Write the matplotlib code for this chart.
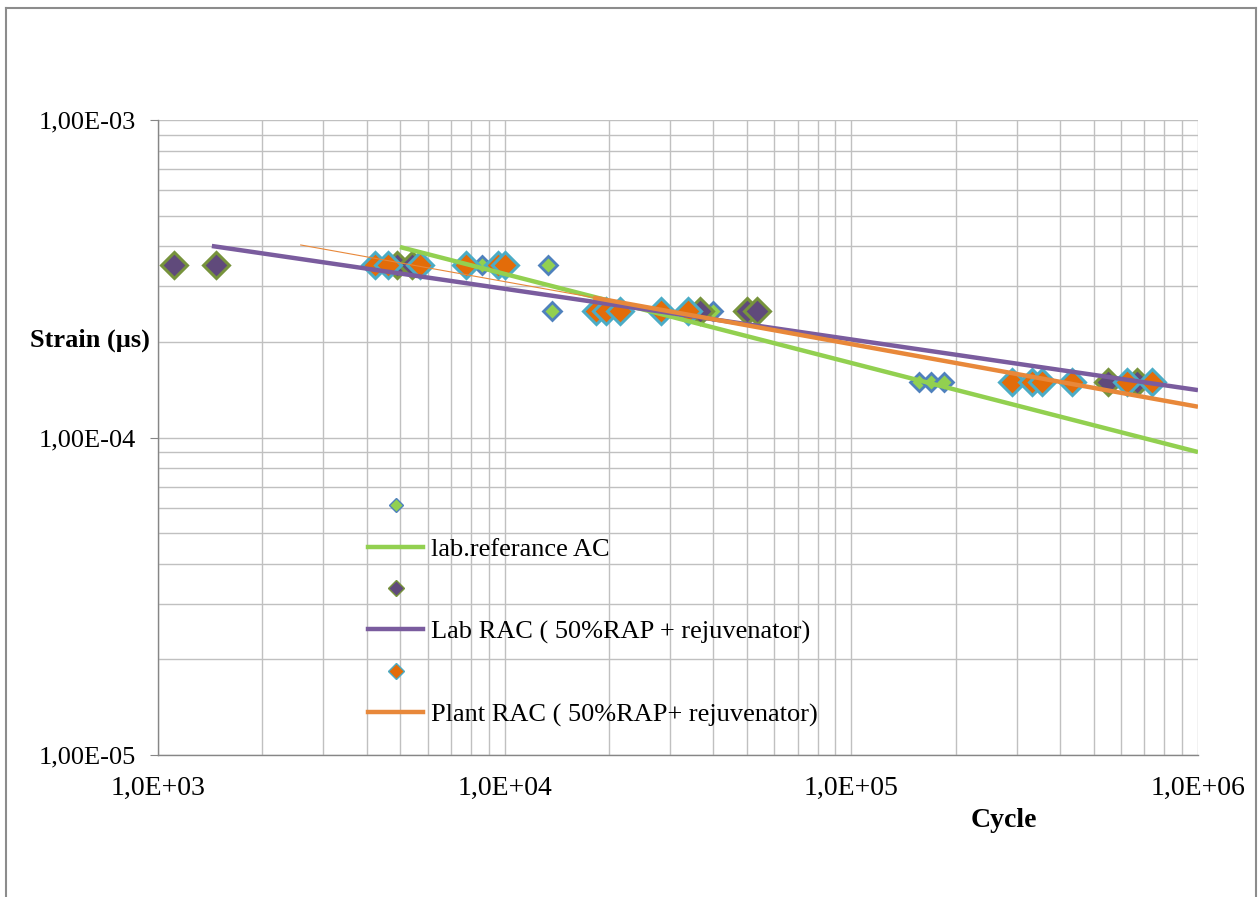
import matplotlib
matplotlib.use("Agg")
import matplotlib.pyplot as plt
from matplotlib.lines import Line2D
from matplotlib.ticker import NullFormatter, LogLocator

plt.rcParams['font.family'] = ['Liberation Serif', 'DejaVu Serif']

# ---- data ----
ac_x = [5.0e3, 8.6e3, 1.33e4, 1.37e4, 3.98e4, 1.57e5, 1.70e5, 1.85e5]
ac_y = [3.5e-4, 3.5e-4, 3.5e-4, 2.5e-4, 2.5e-4, 1.5e-4, 1.5e-4, 1.5e-4]

lab_x = [1.11e3, 1.47e3, 4.89e3, 5.40e3, 3.67e4, 4.99e4, 5.33e4, 5.5e5, 6.68e5]
lab_y = [3.5e-4, 3.5e-4, 3.5e-4, 3.5e-4, 2.5e-4, 2.5e-4, 2.5e-4, 1.5e-4, 1.5e-4]

plant_x = [4.23e3, 4.61e3, 5.70e3, 7.76e3, 9.58e3, 1.00e4,
           1.84e4, 1.96e4, 2.15e4, 2.82e4, 3.37e4,
           2.91e5, 3.31e5, 3.54e5, 4.32e5, 6.26e5, 7.35e5]
plant_y = [3.5e-4] * 6 + [2.5e-4] * 5 + [1.5e-4] * 6

# trend lines (end points)
ac_trend_x = [4.99e3, 1.0e6]
ac_trend_y = [3.98e-4, 9.0e-5]
lab_trend_x = [1.43e3, 1.0e6]
lab_trend_y = [4.01e-4, 1.41e-4]
plant_thin_x = [2.58e3, 1.8e4]
plant_thin_y = [4.04e-4, 2.76e-4]
plant_trend_x = [1.8e4, 1.0e6]
plant_trend_y = [2.76e-4, 1.25e-4]

labels = ["lab.referance AC", "Lab RAC ( 50%RAP + rejuvenator)",
          "Plant RAC ( 50%RAP+ rejuvenator)"]
xticks = [1e3, 1e4, 1e5, 1e6]
xticklabels = ["1,0E+03", "1,0E+04", "1,0E+05", "1,0E+06"]
yticks = [1e-5, 1e-4, 1e-3]
yticklabels = ["1,00E-05", "1,00E-04", "1,00E-03"]

# colours
c_ac_fill, c_ac_edge, c_ac_line = "#92D050", "#4F81BD", "#92D050"
c_lab_fill, c_lab_edge, c_lab_line = "#604A7B", "#77933C", "#7A5C9E"
c_pl_fill, c_pl_edge, c_pl_line = "#E36C09", "#4BACC6", "#E8883A"

W, H = 1260, 897
fig = plt.figure(figsize=(W / 100, H / 100), dpi=100)
ax = fig.add_axes([158 / W, 1 - 755 / H, (1198 - 158) / W, (755 - 120) / H])
ax.set_xscale("log")
ax.set_yscale("log")
ax.set_xlim(1e3, 1e6)
ax.set_ylim(1e-5, 1e-3)

grid_c = "#C0C0C0"
ax.grid(True, which="both", color=grid_c, lw=1.0)
ax.set_axisbelow(True)

# markers
ax.plot(ac_x, ac_y, ls="none", marker="D", ms=9.5, mfc=c_ac_fill, mec=c_ac_edge, mew=2.0, zorder=3)
ax.plot(lab_x, lab_y, ls="none", marker="D", ms=13, mfc=c_lab_fill, mec=c_lab_edge, mew=2.2, zorder=3)
ax.plot(plant_x, plant_y, ls="none", marker="D", ms=13, mfc=c_pl_fill, mec=c_pl_edge, mew=2.2, zorder=3)

# trend lines
ax.plot(ac_trend_x, ac_trend_y, color=c_ac_line, lw=3.2, zorder=4, solid_capstyle="butt")
ax.plot(lab_trend_x, lab_trend_y, color=c_lab_line, lw=3.2, zorder=4, solid_capstyle="butt")
ax.plot(plant_thin_x, plant_thin_y, color=c_pl_line, lw=0.8, zorder=4)
ax.plot(plant_trend_x, plant_trend_y, color=c_pl_line, lw=3.2, zorder=4, solid_capstyle="butt")

ax.set_xticks(xticks)
ax.set_xticklabels(xticklabels, fontsize=20)
ax.set_yticks(yticks)
ax.set_yticklabels(yticklabels, fontsize=19)
ax.xaxis.set_minor_locator(LogLocator(base=10, subs=range(2, 10)))
ax.yaxis.set_minor_locator(LogLocator(base=10, subs=range(2, 10)))
ax.xaxis.set_minor_formatter(NullFormatter())
ax.yaxis.set_minor_formatter(NullFormatter())
ax.tick_params(axis="x", which="both", length=0, pad=15)
ax.tick_params(axis="y", which="major", length=6, color="#868686", pad=10, direction="out")
ax.tick_params(axis="y", which="minor", length=0)

for s in ["top", "right"]:
    ax.spines[s].set_visible(False)
for s in ["left", "bottom"]:
    ax.spines[s].set_color("#868686")
    ax.spines[s].set_linewidth(1.0)

fig.text(90 / W, 1 - 340 / H, "Strain (µs)", fontsize=19, fontweight="bold",
         ha="center", va="center")
fig.text(1004 / W, 1 - 820 / H, "Cycle", fontsize=20, fontweight="bold",
         ha="center", va="center")

# legend
handles = [
    Line2D([], [], ls="none", marker="D", ms=7.5, mfc=c_ac_fill, mec=c_ac_edge, mew=1.0),
    Line2D([], [], color=c_ac_line, lw=3.2),
    Line2D([], [], ls="none", marker="D", ms=8, mfc=c_lab_fill, mec=c_lab_edge, mew=1.0),
    Line2D([], [], color=c_lab_line, lw=3.2),
    Line2D([], [], ls="none", marker="D", ms=8, mfc=c_pl_fill, mec=c_pl_edge, mew=1.0),
    Line2D([], [], color=c_pl_line, lw=3.2),
]
leg_labels = ["", labels[0], "", labels[1], "", labels[2]]
leg = ax.legend(handles, leg_labels, loc="upper left",
                bbox_to_anchor=(368 / W, 1 - 496 / H), bbox_transform=fig.transFigure,
                frameon=False, fontsize=19, handlelength=2.1, handletextpad=0.3,
                labelspacing=0.675, borderpad=0.0, borderaxespad=0.0)

# outer border
for (x0, y0, x1, y1) in [(6, 8, 6, H), (6, 8, 1256, 8), (1256, 8, 1256, H)]:
    fig.add_artist(Line2D([x0 / W, x1 / W], [1 - y0 / H, 1 - y1 / H],
                          transform=fig.transFigure, color="#8C8C8C", lw=1.5))

fig.savefig("out.png", dpi=100)
